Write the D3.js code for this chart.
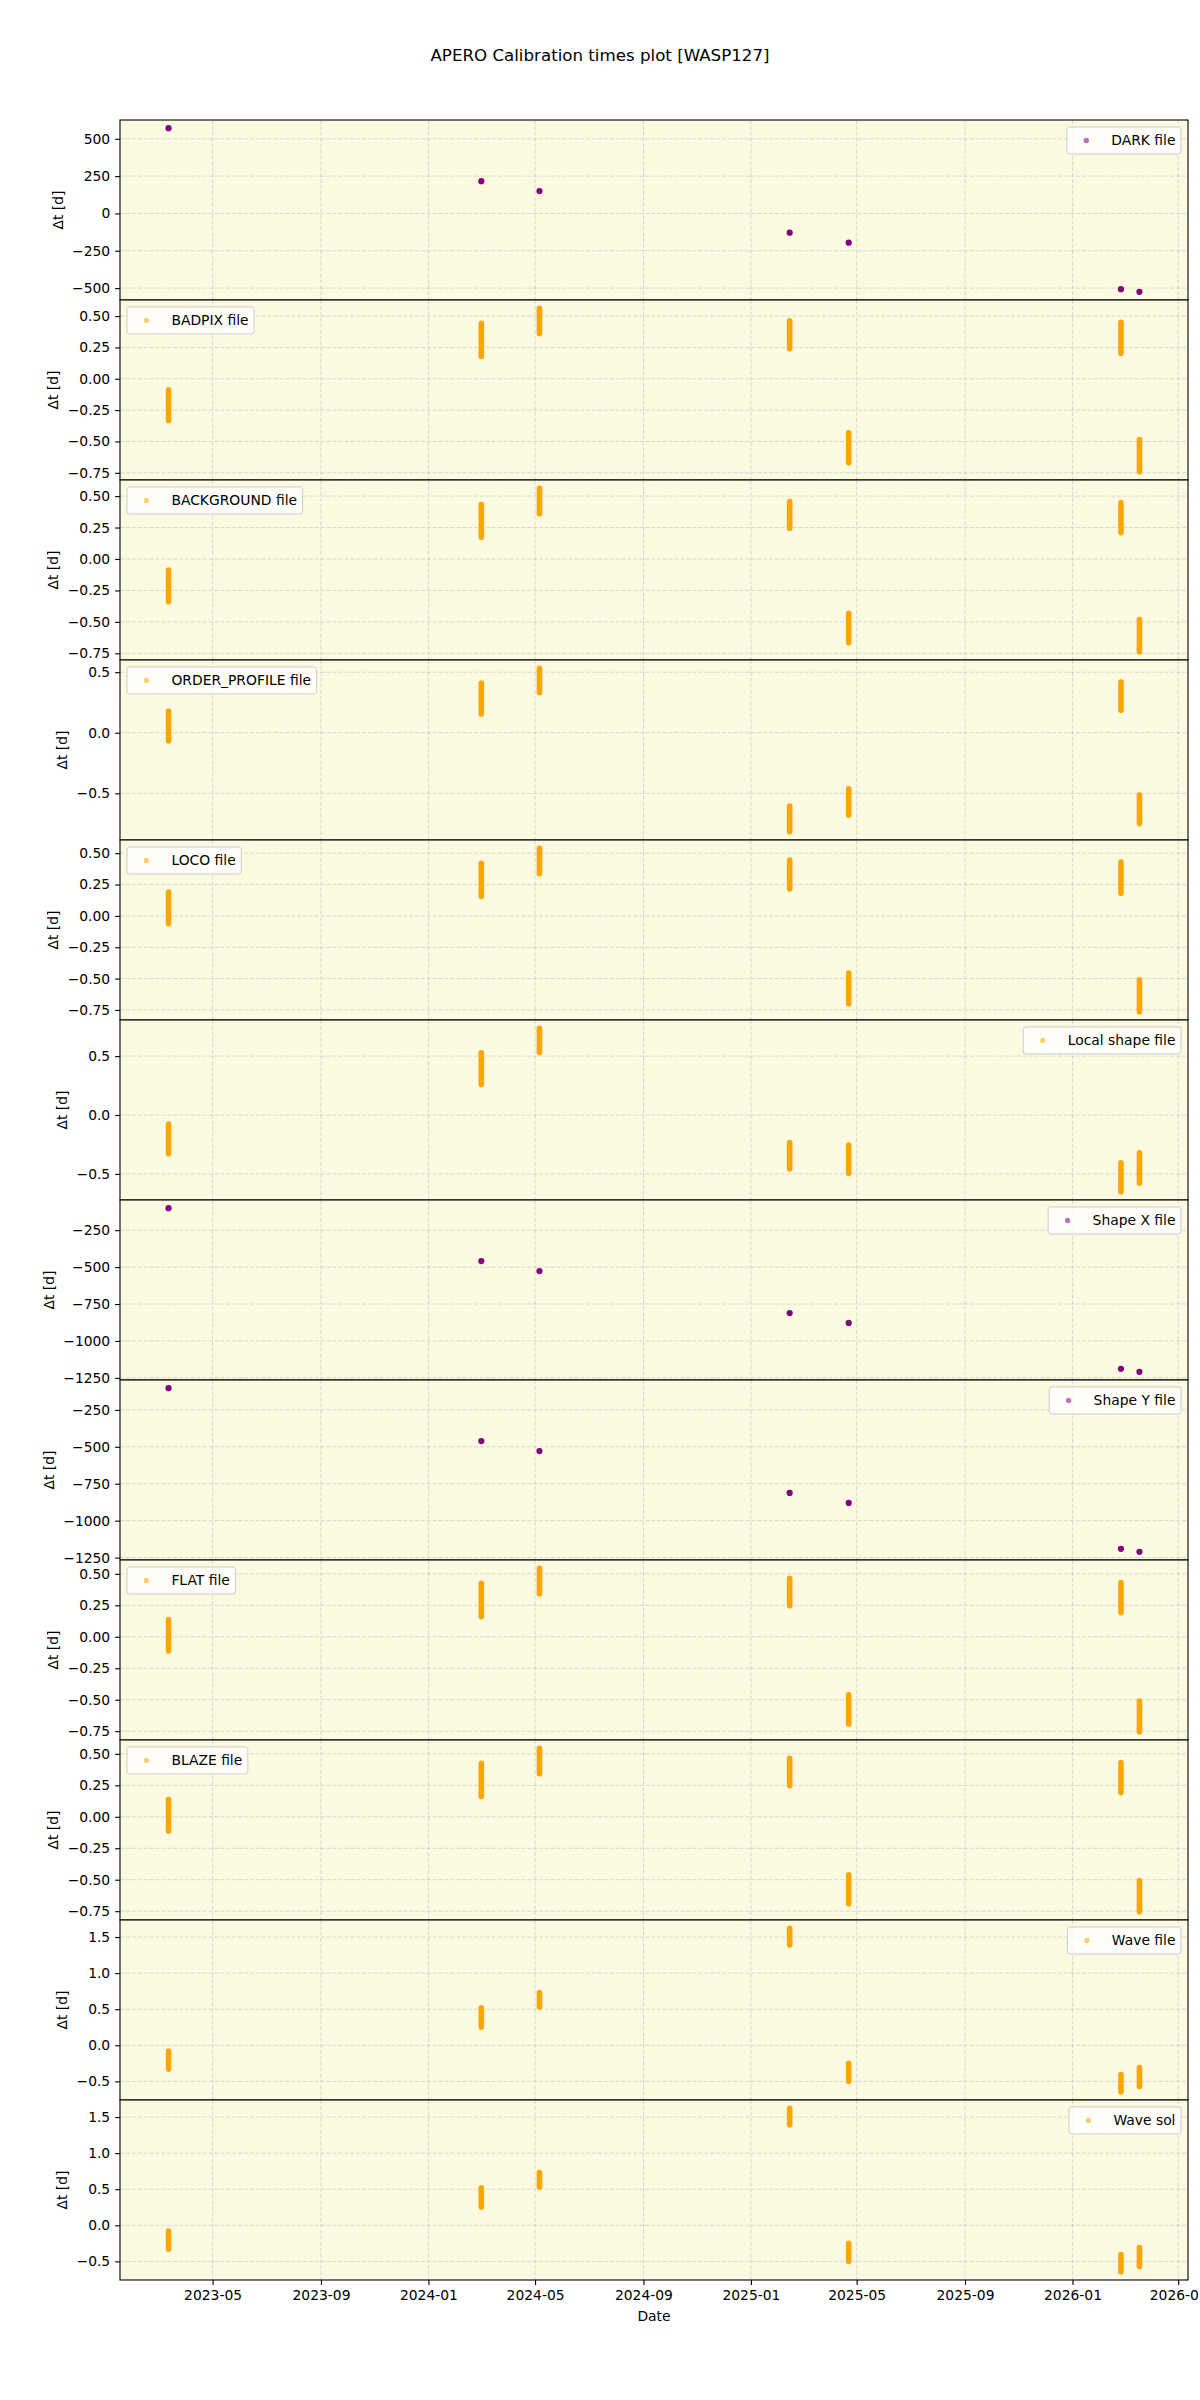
<!DOCTYPE html>
<html>
<head>
<meta charset="utf-8">
<script src="https://cdn.jsdelivr.net/npm/d3@7"></script>
<style>
  body { margin: 0; background: #ffffff; }
  svg { display: block; }
  text { font-family: "DejaVu Sans", sans-serif; fill: #000; }
</style>
</head>
<body>
<svg id="chart" width="1200" height="2400"></svg>
<script>
// ---------------- DATA ----------------
const nightDates = ["2023-03-12", "2024-03-01", "2024-05-06", "2025-02-14", "2025-04-22", "2026-02-25", "2026-03-18"];
const xTickLabels = ["2023-05", "2023-09", "2024-01", "2024-05", "2024-09", "2025-01", "2025-05", "2025-09", "2026-01", "2026-05"];
const panelNames = ["DARK file", "BADPIX file", "BACKGROUND file", "ORDER_PROFILE file", "LOCO file", "Local shape file",
                    "Shape X file", "Shape Y file", "FLAT file", "BLAZE file", "Wave file", "Wave sol"];

// single-value series (one Δt per night)
const darkFile   = [571, 216, 150, -129, -196, -507, -525];
const shapeXFile = [-101, -459, -527, -811, -878, -1189, -1209];
const shapeYFile = [-103, -461, -529, -812, -880, -1191, -1211];

// per-night [min, max] Δt of the observations of that night
const badpixFile       = [[-0.333, -0.087], [0.178, 0.443], [0.361, 0.563], [0.240, 0.462], [-0.669, -0.431], [0.204, 0.451], [-0.742, -0.485]];
const backgroundFile   = [[-0.339, -0.087], [0.172, 0.432], [0.360, 0.563], [0.245, 0.456], [-0.665, -0.432], [0.210, 0.448], [-0.738, -0.482]];
const orderProfileFile = [[-0.067, 0.180], [0.155, 0.410], [0.330, 0.533], [-0.818, -0.605], [-0.680, -0.462], [0.185, 0.418], [-0.750, -0.514]];
const locoFile         = [[-0.063, 0.190], [0.155, 0.420], [0.336, 0.540], [0.215, 0.445], [-0.700, -0.455], [0.180, 0.430], [-0.765, -0.510]];
const localShapeFile   = [[-0.329, -0.077], [0.259, 0.528], [0.531, 0.737], [-0.457, -0.234], [-0.495, -0.254], [-0.652, -0.406], [-0.577, -0.320]];
const flatFile         = [[-0.112, 0.136], [0.159, 0.424], [0.342, 0.545], [0.247, 0.465], [-0.692, -0.461], [0.192, 0.430], [-0.755, -0.510]];
const blazeFile        = [[-0.112, 0.136], [0.161, 0.424], [0.342, 0.545], [0.247, 0.465], [-0.690, -0.460], [0.192, 0.430], [-0.755, -0.506]];
const waveFile         = [[-0.330, -0.080], [0.254, 0.518], [0.530, 0.730], [1.390, 1.623], [-0.500, -0.250], [-0.645, -0.405], [-0.570, -0.310]];
const waveSol          = [[-0.330, -0.080], [0.254, 0.518], [0.530, 0.730], [1.390, 1.623], [-0.500, -0.250], [-0.645, -0.405], [-0.570, -0.310]];

// y tick values
const yTicksDark   = [-500, -250, 0, 250, 500];
const yTicksQuart  = [-0.75, -0.5, -0.25, 0, 0.25, 0.5];
const yTicksHalf   = [-0.5, 0, 0.5];
const yTicksShape  = [-1250, -1000, -750, -500, -250];
const yTicksWave   = [-0.5, 0, 0.5, 1.0, 1.5];

const titleText = "APERO Calibration times plot [WASP127]";
const yLabelText = "Δt [d]";
const xLabelText = "Date";

// ---------------- STYLE / LAYOUT ----------------
const W = 1200, H = 2400;
const mLeft = 120, mRight = 1188, mTop = 120, mBottom = 2280;
const nP = panelNames.length;
const pH = (mBottom - mTop) / nP;
const FS = 13.89;
const purple = "#800080", orange = "#FFA500";
const bg = "#FCFBE2";

const panels = [
  { values: darkFile,         kind: "point",  ticks: yTicksDark,  fmt: "d",   color: purple, legend: "right" },
  { values: badpixFile,       kind: "streak", ticks: yTicksQuart, fmt: ".2f", color: orange, legend: "left" },
  { values: backgroundFile,   kind: "streak", ticks: yTicksQuart, fmt: ".2f", color: orange, legend: "left" },
  { values: orderProfileFile, kind: "streak", ticks: yTicksHalf,  fmt: ".1f", color: orange, legend: "left" },
  { values: locoFile,         kind: "streak", ticks: yTicksQuart, fmt: ".2f", color: orange, legend: "left" },
  { values: localShapeFile,   kind: "streak", ticks: yTicksHalf,  fmt: ".1f", color: orange, legend: "right" },
  { values: shapeXFile,       kind: "point",  ticks: yTicksShape, fmt: "d",   color: purple, legend: "right" },
  { values: shapeYFile,       kind: "point",  ticks: yTicksShape, fmt: "d",   color: purple, legend: "right" },
  { values: flatFile,         kind: "streak", ticks: yTicksQuart, fmt: ".2f", color: orange, legend: "left" },
  { values: blazeFile,        kind: "streak", ticks: yTicksQuart, fmt: ".2f", color: orange, legend: "left" },
  { values: waveFile,         kind: "streak", ticks: yTicksWave,  fmt: ".1f", color: orange, legend: "right" },
  { values: waveSol,          kind: "streak", ticks: yTicksWave,  fmt: ".1f", color: orange, legend: "right" }
];

const svg = d3.select("#chart");
svg.append("rect").attr("width", W).attr("height", H).attr("fill", "#fff");

const dates = nightDates.map(d => new Date(d + "T00:00:00Z"));
const [dMin, dMax] = d3.extent(dates);
const span = dMax - dMin;
const x = d3.scaleUtc()
  .domain([new Date(+dMin - 0.05 * span), new Date(+dMax + 0.05 * span)])
  .range([mLeft, mRight]);
const xTicks = xTickLabels.map(s => new Date(s + "-01T00:00:00Z"));

// title
svg.append("text")
  .attr("x", W / 2).attr("y", 61)
  .attr("text-anchor", "middle")
  .style("font-size", "16.67px")
  .text(titleText);

panels.forEach((p, i) => {
  const y0 = mTop + i * pH, y1 = y0 + pH;
  const flat = p.kind === "point" ? p.values : p.values.flat();
  const [vMin, vMax] = d3.extent(flat);
  const pad = 0.05 * (vMax - vMin);
  const y = d3.scaleLinear().domain([vMin - pad, vMax + pad]).range([y1, y0]);

  const g = svg.append("g");
  g.append("rect").attr("x", mLeft).attr("y", y0).attr("width", mRight - mLeft).attr("height", pH)
    .attr("fill", bg);

  const clipId = "clip" + i;
  svg.append("clipPath").attr("id", clipId)
    .append("rect").attr("x", mLeft).attr("y", y0).attr("width", mRight - mLeft).attr("height", pH);

  const grid = g.append("g").attr("clip-path", `url(#${clipId})`);
  grid.selectAll("line.vx").data(xTicks).join("line")
    .attr("x1", d => x(d)).attr("x2", d => x(d)).attr("y1", y0).attr("y2", y1)
    .attr("stroke", "#b0b0b0").attr("stroke-opacity", 0.6).attr("stroke-width", 0.8)
    .attr("stroke-dasharray", "4.1,1.8");
  grid.selectAll("line.hy").data(p.ticks).join("line")
    .attr("x1", mLeft).attr("x2", mRight).attr("y1", d => y(d)).attr("y2", d => y(d))
    .attr("stroke", "#b0b0b0").attr("stroke-opacity", 0.6).attr("stroke-width", 0.8)
    .attr("stroke-dasharray", "4.1,1.8");

  const marks = g.append("g").attr("clip-path", `url(#${clipId})`);
  if (p.kind === "point") {
    marks.selectAll("circle").data(p.values).join("circle")
      .attr("cx", (d, k) => x(dates[k])).attr("cy", d => y(d))
      .attr("r", 3.1).attr("fill", p.color);
  } else {
    marks.selectAll("line").data(p.values).join("line")
      .attr("x1", (d, k) => x(dates[k])).attr("x2", (d, k) => x(dates[k]))
      .attr("y1", d => y(d[0])).attr("y2", d => y(d[1]))
      .attr("stroke", p.color).attr("stroke-width", 5.6).attr("stroke-linecap", "round");
  }

  // y axis
  const yAxis = d3.axisLeft(y).tickValues(p.ticks).tickFormat(d3.format(p.fmt))
    .tickSize(4.9).tickPadding(4.9);
  const ag = g.append("g").attr("transform", `translate(${mLeft},0)`).call(yAxis);
  ag.select(".domain").remove();
  ag.selectAll(".tick line").attr("stroke", "#000").attr("stroke-width", 1.1);
  ag.selectAll(".tick text").style("font-size", FS + "px").style("font-family", "DejaVu Sans");
  let minX = mLeft;
  ag.selectAll(".tick text").each(function () {
    const b = this.getBBox();
    minX = Math.min(minX, mLeft + b.x);
  });
  g.append("text")
    .attr("transform", `translate(${minX - 9.5},${(y0 + y1) / 2}) rotate(-90)`)
    .attr("text-anchor", "middle")
    .style("font-size", FS + "px")
    .text(yLabelText);

  // legend
  const lg = g.append("g");
  const txt = lg.append("text").style("font-size", FS + "px").text(panelNames[i]);
  const tw = txt.node().getComputedTextLength();
  const bp = 0.4 * FS, hl = 2.0 * FS, htp = 0.8 * FS;
  const bw = bp + hl + htp + tw + bp;
  const bh = 27;
  const bx = p.legend === "left" ? mLeft + 0.5 * FS : mRight - 0.5 * FS - bw;
  const by = y0 + 0.5 * FS;
  lg.insert("rect", "text")
    .attr("x", bx).attr("y", by).attr("width", bw).attr("height", bh)
    .attr("rx", 2.8).attr("ry", 2.8)
    .attr("fill", "#ffffff").attr("fill-opacity", 0.8)
    .attr("stroke", "#cccccc").attr("stroke-width", 1);
  lg.append("circle")
    .attr("cx", bx + bp + hl / 2).attr("cy", by + bh / 2)
    .attr("r", 2.7).attr("fill", p.color).attr("fill-opacity", 0.55);
  txt.attr("x", bx + bp + hl + htp).attr("y", by + bh / 2 + 4.6);

  // frame
  g.append("rect").attr("x", mLeft).attr("y", y0).attr("width", mRight - mLeft).attr("height", pH)
    .attr("fill", "none").attr("stroke", "#000").attr("stroke-width", 1.1);
});

// x axis on the bottom panel
const xAxis = d3.axisBottom(x).tickValues(xTicks).tickFormat(d3.utcFormat("%Y-%m"))
  .tickSize(4.9).tickPadding(4.9);
const xg = svg.append("g").attr("transform", `translate(0,${mBottom})`).call(xAxis);
xg.select(".domain").remove();
xg.selectAll(".tick line").attr("stroke", "#000").attr("stroke-width", 1.1);
xg.selectAll(".tick text").style("font-size", FS + "px").style("font-family", "DejaVu Sans");

svg.append("text")
  .attr("x", (mLeft + mRight) / 2).attr("y", 2321)
  .attr("text-anchor", "middle")
  .style("font-size", FS + "px")
  .text(xLabelText);
</script>
</body>
</html>
